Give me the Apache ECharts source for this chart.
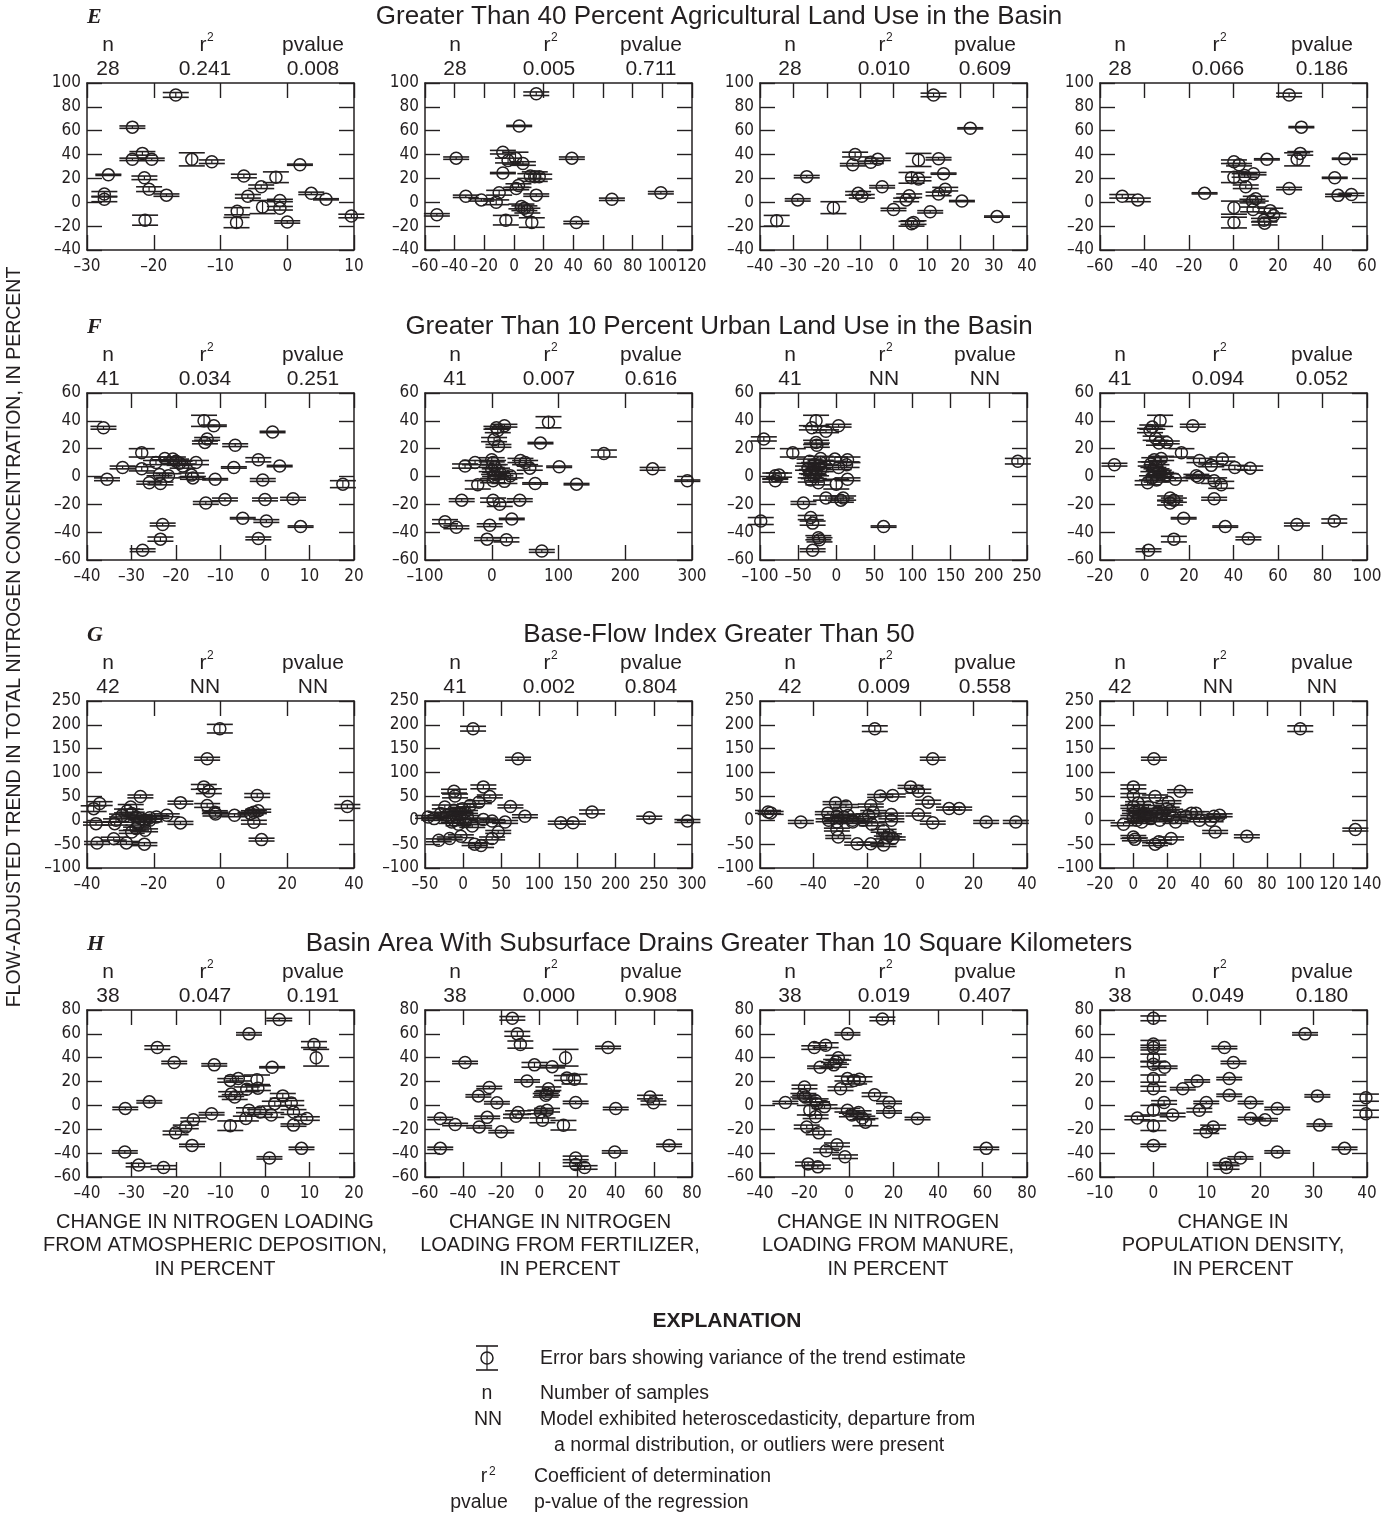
<!DOCTYPE html>
<html>
<head>
<meta charset="utf-8">
<script src="https://cdn.jsdelivr.net/npm/echarts@6/dist/echarts.min.js"></script>
<style>
  html, body { margin: 0; padding: 0; background: #fff; }
  #chart { width: 1397px; height: 1516px; }
</style>
</head>
<body>
<div id="chart"></div>
<script>
// ---- Panel data: [change in explanatory variable, flow-adjusted trend, error half-range] ----
// Row E: greater than 40 percent agricultural land use
const E_atm = [[-16.7,90,2],[-23.2,63,1],[-21.7,41,1.5],[-23.2,36,1],[-20.3,36,1],[-14.3,36,5.5],[-11.3,34,1.5],[-26.8,23,0.5],[-21.4,20.5,1.5],[-20.7,11,2],[-18.1,6,1],[-27.4,7,2],[-27.4,2.5,2],[-21.3,-15,4.2],[-6.5,22,1.5],[-1.7,21,4.5],[-3.9,13,1.5],[-5.9,5,1.5],[1.9,31.5,0.5],[3.6,7.5,1],[5.8,2.5,0.5],[9.6,-11.5,1.5],[-1.1,1.5,1],[-1.1,-5,1.5],[-3.7,-4,5.5],[0,-16.5,1],[-7.5,-7.5,3],[-7.6,-17,4.3]];
const E_fert = [[15,91,1.5],[3.5,64,0.5],[-39,37,1],[39,37,1],[-7.5,42,1.5],[-4,35,2],[1,37,5],[6,32.5,1.5],[-7.5,24.5,0.5],[11,22,2],[14,21.5,4],[17,21.5,2],[3,14,1.5],[1.5,11.5,1],[15,6,1],[-32.5,5,1],[-22,2,1],[-12,0,2],[-10,8,2],[66,2.5,1],[99,8,1],[-52,-10.5,1],[-5.5,-15,4],[5,-3.5,2],[7,-5,2],[9,-7,2],[12,-17,4],[42,-17,1]];
const E_man = [[12,90,1.5],[23,62,0.5],[-26,21.5,1],[-28.7,2,1],[-18,-4.5,5],[-35,-15.5,4.5],[-11.5,40,2],[-12.2,31.5,1],[-6.8,33.5,1],[-4.7,36,1],[-10.6,7.5,1.5],[-9.5,5,1.5],[-3.4,13,1],[0,-6,1],[7.5,35.5,5.5],[5.4,20.5,4.5],[7.5,19.5,1.5],[13.5,36.5,1],[15,24,0.5],[15.5,11,1.5],[13.5,7,1.5],[4.7,5.5,1.5],[3.8,2,1.5],[20.5,1,0.5],[11,-8,1],[31,-12,0.5],[5.4,-18,2],[6,-17,1.5]];
const E_pop = [[25,90,1.5],[30.5,63,0.5],[30,41,1.5],[28.6,36,5.5],[15,36,0.5],[50,36.5,0.5],[45.5,20.5,0.5],[47,5.8,1],[53,6.6,1],[25,11.5,1],[-50,5,1.5],[-43,2,1.5],[-13,7.5,0.5],[0.2,34,1.5],[2.5,31.5,1],[0.2,21,4.5],[5,22.5,1.5],[9,24,1],[5.5,13,1.5],[10,3,2],[8.5,1,1.5],[8.8,-6,2],[0.2,-4.5,5.5],[0.2,-17,4.5],[16.5,-7,2],[18,-11,1.5],[13.7,-15,1.5],[14,-17.5,1.5]];

// Row F: greater than 10 percent urban land use
const F_atm = [[-36.3,35,1],[-35.5,-2,1],[-27.7,17,3],[-32,6.5,1],[-27.7,5.5,1.5],[-26,-4.5,1],[-23.5,-5,1],[-23.7,1.5,1],[-24.5,10,1.5],[-22.5,13,1],[-20.7,12.5,1.5],[-20,11,1.5],[-19.2,9.5,1.5],[-18.5,7.5,1.5],[-21.7,0.5,1.5],[-15.5,10,1.5],[-16.5,1,1.5],[-16.2,-1,1],[-13.7,40,4],[-11.5,36.5,0.5],[-13,27,1],[-13.5,24.5,1],[-6.7,22.5,1],[-11.2,-2,0.5],[-13.3,-19,1],[-9,-16.5,1],[-7,6.5,0.5],[-5,-30,0.5],[-1.5,12,1.5],[-0.5,-2.5,1],[0,-16.5,1],[0.3,-32,1],[-1.5,-44.5,1],[1.7,32,0.5],[3.3,7.5,0.5],[6.3,-16,1],[8,-36,0.5],[17.5,-5.5,2.5],[-23,-34.5,1],[-23.5,-45,1.5],[-27.5,-53,1]];
const F_fert = [[85,39,4],[7,35,1],[9,33,1.5],[19,36.5,1],[3.5,26.5,1.5],[10,22,1],[73,24,0.5],[168,16.5,2.5],[241,5.5,1],[293,-3,0.5],[101,7,0.5],[127,-5.5,0.5],[65,-5,0.5],[57,6,1.5],[43,11.5,1.5],[50,10,1.5],[-25,10,1.5],[-40,7.5,1.5],[-21,-6,3],[-45,-17,1],[-70,-32.5,1.5],[-53,-36.5,1],[-3,-35,1],[-7,-45,1],[22,-45.5,1.5],[30,-30.5,0.5],[75,-53.5,1],[2,-17,1.5],[12,-20,1.5],[42,-17,1],[0,12,1.5],[2,10,1.5],[4.5,7,1.5],[0,5,1.5],[8,4.5,1.5],[13,2,1.5],[3.5,0,1.5],[2,-3,1.5],[19,-3.5,1.5],[28,0.5,1.5],[5,1.5,1.5]];
const F_man = [[-95,27,1.5],[-99,-32,2.5],[-80,0.5,2],[-75,1,1.5],[-80,-3,1],[-57,17,3],[-43,-19,1],[-26.5,40,4],[-32,35,1.5],[-13.5,32.5,1],[3,36.5,1],[-26.5,24.5,1.5],[-25.5,22.5,1.5],[-13.5,-15.5,1.5],[6,-17,1.5],[9,-15.5,1.5],[0,-5.5,3.5],[14.7,-2,1],[14.7,12,2],[-1.8,12.5,1.5],[3,6.5,1.5],[13.5,8.5,2],[-20.5,13,1.5],[-35,11,1.5],[-29,8.5,1.5],[-23.5,7.5,1.5],[-37,6,1.5],[-32,3.5,1.5],[-20.5,5,1.5],[-26.5,2,1.5],[-29.5,0,1.5],[-33.5,-2.5,1.5],[-23.5,-4.5,1.5],[-20.5,10,1.5],[-33.5,-29.5,1.5],[-31,-33.5,1.5],[-23.5,-44,1.5],[-22,-45.5,1.5],[-31,-53,1],[62,-36,0.5],[238,11,2]];
const F_pop = [[-13.5,8.5,1],[7,40,4],[3.5,35.5,1.5],[2.5,33,1.5],[5,27.5,1.5],[6.5,24,1.5],[10,24.5,1],[21.7,36.5,1],[16.6,17,3],[24.7,11.5,1.5],[30,8,1],[35,12.5,1.5],[40.6,6.5,1.5],[47.5,6,1.5],[4.4,12,1.5],[7.5,13,1.5],[2.8,9,1.5],[5.4,7,1.5],[4,5,1.5],[6.4,3,1.5],[9.5,0.5,1.5],[3.4,-1,1.5],[1.4,-4.5,1.5],[5.4,-2.5,1.5],[7.5,1.5,1.5],[23.3,0.5,1],[24.3,-0.5,1],[13.8,-2,1],[31.3,-3,2],[34.5,-6,2.5],[11.5,-15.5,1.5],[13.2,-17,1.5],[11.5,-19,1.5],[31.3,-16,1],[17.6,-30,0.5],[36.3,-36,0.5],[13.2,-45,2],[46.7,-44.5,1],[68.5,-34.5,1],[85.3,-32,1.5],[1.8,-53,1]];

// Row G: base-flow index greater than 50
const G_atm = [[-0.2,192,9],[-4,129,3],[-5,70,5],[-3.5,61,5],[-4,31,4],[-1.5,13,4],[-1.7,17,3],[-12,37,3],[-12,-5.5,3],[-24,50,3],[11,52,4],[10,17,3],[11.3,20,3],[10,-4,4],[9,14,3],[12.3,-40.5,3],[4.2,10.5,3],[38,29,4],[-38,24.4,6],[-36.2,35,4],[-37,-47.5,3],[-37.3,-7,3],[-31.3,0,3],[-31.7,-7,3],[-26.9,28,5],[-28,19.5,4],[-26.6,14,3],[-25.3,7,3],[-23.9,3.5,3],[-22.6,0,3],[-21.2,5.5,3],[-19.2,7,3],[-16.1,10.5,3],[-32,-38.5,3],[-28.2,-47.4,3],[-22.8,-50,3],[-26.6,-24.4,3],[-25.3,-17.4,3],[-22.6,-21,3],[-21.2,0,3],[-29.5,10,3],[-24.6,-7,3]];
const G_fert = [[13,192,5],[72,129,3],[26.5,70,4],[35,50,3],[-12,61,4],[-10.6,51,4],[62,29,3],[81,8.5,3],[128,-5,3],[144,-5,3],[169,17.5,4],[244,5.5,3],[294,-1.5,3],[15,-50,3],[23.5,-53,4],[-32,-42,3],[-17.6,-38,3],[-3,-33.5,3],[38,-38,3],[46,-24.4,3],[38,-1.5,3],[55,-3.5,3],[26.5,1.5,3],[20.6,38,3],[9,31,3],[-46,7,3],[-38,3.5,3],[-29.5,14,3],[-21,10.5,3],[-24,28,4],[-12,21,3],[-9,7,3],[-3.5,14,3],[2.5,17.5,3],[-15,-3.5,3],[-6,-8.5,3],[3,-2,3],[-12,0,4],[5.5,7,3],[-1,24,3],[12,-12,3]];
const G_man = [[-17,192,6],[4.7,129,3],[-3.6,70,3],[-0.7,61,4],[-15,51,3],[-10.3,52,3],[3,38,4],[-0.7,12,3],[10.8,24.5,3],[14.6,24.5,3],[4.7,-5,3],[24.7,-3.5,3],[35.8,-3.5,3],[-57,17.5,3],[-56,15.5,3],[-44.7,-3.5,3],[-31.7,36,3],[-27.8,30,3],[-34.6,15,3],[-31.2,8.4,3],[-28.6,7,3],[-25.3,0,3],[-34.3,0,3],[-31.2,-3.5,3],[-25.3,-3.5,3],[-31.2,-19.5,3],[-30.7,-35,3],[-23.6,-49,3],[-18.5,-49,3],[-13.7,-52,3],[-18.5,31,3],[-17.6,17.4,3],[-19.3,10.5,3],[-21.4,0,3],[-18.1,-8.4,3],[-10.8,12,3],[-10.8,0,3],[-13.7,-22,3],[-11.7,-31.4,3],[-10.3,-38,3],[-12.5,-36,3],[-27,10,3]];
const G_pop = [[100,192,6],[12.3,129,3],[0,70,4],[0,52,4],[2.8,36,3],[13,50,3],[28,61,3],[21,38,3],[20,24.4,3],[133,-19.5,3],[68,-33.5,3],[49,-24.4,3],[48.3,8.4,3],[51.7,10.5,3],[39.7,0,3],[34.8,15,3],[37.5,15,3],[31.5,9,3],[24,5.6,3],[25.3,-3.5,3],[46.3,0,3],[0,-35,3],[0.9,-40,3],[13,-50,3],[15.3,-45,3],[22.6,-38,3],[-5.9,-8.4,3],[0,28,3],[0.9,17.4,3],[3.6,21,3],[7.1,14,3],[9,28,3],[2.2,0,3],[5,-3.5,3],[3.6,7,3],[10.4,3.5,3],[14.4,17.4,3],[17.2,14,3],[15.8,0,3],[0,7,3],[7,10,3],[22,20,3]];

// Row H: basin area with subsurface drains greater than 10 square kilometers
const H_atm = [[3.2,72,1],[-3.6,60,1],[-24.2,48.5,1.5],[-20.4,36,1],[-11.4,34,1],[1.6,32,0.5],[11,51,2.5],[11.5,40,7],[-7.8,21,1.5],[-6,22.5,2],[-1.8,21.5,4],[-1.6,14.5,2],[-4.1,13.5,2],[-7.6,9.5,2],[-6.8,7,2],[4,8,2],[2.2,1.5,2],[5.9,2,2],[6.4,-5.5,2],[9.4,-11,1.5],[-31.4,-2.5,1],[-26,3,1],[-12,-7,1],[-16.1,-12,1.5],[-17.8,-18,1.5],[-20.1,-23,1.5],[-3.6,-4,2],[-1.1,-5.5,2],[1.4,-8,2],[-4.3,-11,2],[-7.8,-17,4],[6.4,-16.5,1],[-16.4,-33.5,1],[-31.5,-39,1],[-28.4,-50,1.5],[-22.8,-52,1.5],[1,-44,1],[8.2,-36,1]];
const H_fert = [[-14.2,73,1.5],[-11.6,60,2],[-10,51,3],[36,48.6,1],[-39,36,1],[-2.6,34,2],[6.7,32.5,1],[13.7,40,7],[-6.5,20.5,1],[14.4,23,2],[18.4,22,4],[19,2.5,1],[-26.3,15,1],[-32,8,1],[-22.3,2.2,1],[4.7,14,1.5],[4,10,1.5],[3.3,8.5,1.5],[0.5,-5.5,1.5],[4,-4,1.5],[1.6,-12.5,2],[-11.2,-6,1.5],[-12.3,-9,1.5],[12.6,-16.6,4],[-27.4,-10,1],[-52,-11,1],[-44.2,-16,1],[-31.6,-18,1],[-20,-22,1],[-52,-36,1],[40,-2.6,1],[58,7,1.5],[59.8,2.2,1.5],[39.5,-39,1],[68,-33.5,1],[19,-44,1.5],[19,-49.5,1.5],[23.7,-52,1.5]];
const H_man = [[15,72.5,1.5],[-0.7,60,1],[-15.6,48.5,1.5],[-10.5,50.5,2],[-4.8,40,2],[-5.8,36.5,2],[-6.8,34,2],[-13,32,1],[-0.7,22.5,2],[2.3,21,3],[4.7,22,2],[-3.8,14,1.5],[11.5,9,1.5],[18,2.5,1],[18,-5.5,1],[30.8,-11,1],[61.7,-36,1],[-28.6,2.4,1],[-20,15.5,1.5],[-20.5,8.5,1.5],[-19.7,7,1.5],[-15,4,1.5],[-14.4,1.5,1.5],[-11,-1,1.5],[-17.6,-4,4],[-15,-9.5,1.5],[-19,-18,1.5],[-13.6,-23,1.5],[-0.7,-4,1.5],[1.3,-8,1.5],[4.3,-6,1.5],[6,-10.5,1.5],[7.4,-14,3],[-5.4,-33,1.5],[-10.3,-38,1.5],[-1.8,-43,1.5],[-18.4,-49,1.5],[-14,-51.5,1.5]];
const H_pop = [[0,73,2],[0,51.5,3],[0,48.5,2],[0,40,3],[0,34.5,2],[2.1,32,1],[0,22.5,3],[0,14,2],[0,-4,4],[0,-17,4],[0,-33.5,1],[2,2.5,1.5],[-3,-10.5,1.5],[3.6,-8,1.5],[5.5,14,1],[8.2,20.5,1],[9.9,2.5,1],[8.6,-4,1.5],[9.9,-22,1.5],[11.2,-18,1.5],[13.3,48.5,1],[15,36,1],[14.2,22.5,1],[14.2,8.5,1],[18.2,2.4,1],[18.2,-11,1],[20.9,-12,1],[23.2,-2.6,1],[13.5,-49,1],[13.7,-52,1.5],[16.3,-44,1],[23.2,-39,1],[28.4,60,1],[30.7,8,1],[31.1,-16.5,1],[35.8,-36,1],[39.8,6.5,3],[39.8,-7,3]];

// ---- Row headings, regression statistics and axis scales ----
const rowLetters = ['E', 'F', 'G', 'H'];
const rowTitles = [
  'Greater Than 40 Percent Agricultural Land Use in the Basin',
  'Greater Than 10 Percent Urban Land Use in the Basin',
  'Base-Flow Index Greater Than 50',
  'Basin Area With Subsurface Drains Greater Than 10 Square Kilometers'
];
const nValues = [[28, 28, 28, 28], [41, 41, 41, 41], [42, 41, 42, 42], [38, 38, 38, 38]];
const r2Values = [['0.241', '0.005', '0.010', '0.066'], ['0.034', '0.007', 'NN', '0.094'], ['NN', '0.002', '0.009', 'NN'], ['0.047', '0.000', '0.019', '0.049']];
const pValues = [['0.008', '0.711', '0.609', '0.186'], ['0.251', '0.616', 'NN', '0.052'], ['NN', '0.804', '0.558', 'NN'], ['0.191', '0.908', '0.407', '0.180']];
// [min, max, interval] of each x axis, by row and column
const xScales = [
  [[-30, 10, 10], [-60, 120, 20], [-40, 40, 10], [-60, 60, 20]],
  [[-40, 20, 10], [-100, 300, 100], [-100, 250, 50], [-20, 100, 20]],
  [[-40, 40, 20], [-50, 300, 50], [-60, 40, 20], [-20, 140, 20]],
  [[-40, 20, 10], [-60, 80, 20], [-40, 80, 20], [-10, 40, 10]]
];
// [min, max, interval] of the y axes, by row
const yScales = [[-40, 100, 20], [-60, 60, 20], [-100, 250, 50], [-60, 80, 20]];
const xAxisTitles = [
  ['CHANGE IN NITROGEN LOADING', 'FROM ATMOSPHERIC DEPOSITION,', 'IN PERCENT'],
  ['CHANGE IN NITROGEN', 'LOADING FROM FERTILIZER,', 'IN PERCENT'],
  ['CHANGE IN NITROGEN', 'LOADING FROM MANURE,', 'IN PERCENT'],
  ['CHANGE IN', 'POPULATION DENSITY,', 'IN PERCENT']
];
const yAxisTitle = 'FLOW-ADJUSTED TREND IN TOTAL NITROGEN CONCENTRATION, IN PERCENT';

const panelData = [
  [E_atm, E_fert, E_man, E_pop],
  [F_atm, F_fert, F_man, F_pop],
  [G_atm, G_fert, G_man, G_pop],
  [H_atm, H_fert, H_man, H_pop]
];

// ---- Layout ----
const INK = '#231f20';
const SANS = '"Liberation Sans", Arial, Helvetica, sans-serif';
const CONDENSED = '"DejaVu Sans Condensed", "Liberation Sans Narrow", sans-serif';
const SERIF = '"Liberation Serif", "Times New Roman", serif';
const COL_LEFT = [87, 425, 760, 1100];
const COL_W = 267;
const ROW_TOP = [83, 393, 701, 1010];
const ROW_H = 167;
const STAT_X = [[108, 205, 313], [455, 549, 651], [790, 884, 985], [1120, 1218, 1322]];
const XTITLE_X = [215, 560, 888, 1233];
const CAP = 13;   // half-width of the error bar caps, px
const RAD = 6;    // marker radius, px

// tick labels use a short dash for negatives, as in the printed figure
const dashFmt = v => (v < 0 ? '\u2013' + Math.abs(v) : String(v));

function drawErrorBar(params, api) {
  const x = api.value(0), y = api.value(1), e = api.value(2);
  const p = api.coord([x, y]);
  const hi = api.coord([x, y + e])[1];
  const lo = api.coord([x, y - e])[1];
  const capStyle = { stroke: INK, lineWidth: 1.6 };
  return {
    type: 'group',
    children: [
      { type: 'line', shape: { x1: p[0], y1: hi, x2: p[0], y2: lo }, style: { stroke: INK, lineWidth: 1.2 } },
      { type: 'line', shape: { x1: p[0] - CAP, y1: hi, x2: p[0] + CAP, y2: hi }, style: capStyle },
      { type: 'line', shape: { x1: p[0] - CAP, y1: lo, x2: p[0] + CAP, y2: lo }, style: capStyle },
      { type: 'circle', shape: { cx: p[0], cy: p[1], r: RAD }, style: { stroke: INK, lineWidth: 1.5, fill: 'transparent' } }
    ]
  };
}

function text(x, y, str, font, align, extra) {
  return Object.assign({
    type: 'text', x: x, y: y, silent: true,
    style: { text: str, font: font, fill: INK, align: align || 'center', verticalAlign: 'middle',
             textAlign: align || 'center', textVerticalAlign: 'middle' }
  }, extra || {});
}

const grids = [], xAxes = [], yAxes = [], series = [], graphics = [];

for (let r = 0; r < 4; r++) {
  const top = ROW_TOP[r];
  graphics.push(text(87, top - 66, rowLetters[r], 'italic bold 22px ' + SERIF, 'left'));
  graphics.push(text(719, top - 66, rowTitles[r], '26px ' + SANS));
  for (let c = 0; c < 4; c++) {
    const k = r * 4 + c;
    const [xmin, xmax, xint] = xScales[r][c];
    const [ymin, ymax, yint] = yScales[r];
    grids.push({ left: COL_LEFT[c], top: top, width: COL_W, height: ROW_H, containLabel: false });

    const base = {
      type: 'value', gridIndex: k, scale: false,
      splitLine: { show: false },
      axisLine: { show: true, onZero: false, lineStyle: { color: INK, width: 1.5 } },
      axisTick: { show: true, inside: true, length: 15, lineStyle: { color: INK, width: 1.4 } }
    };
    const labelStyle = { color: INK, fontFamily: CONDENSED, fontSize: 17, formatter: dashFmt,
                         showMinLabel: true, showMaxLabel: true };
    xAxes.push(Object.assign({}, base, { position: 'bottom', min: xmin, max: xmax, interval: xint,
      axisLabel: Object.assign({ show: true, margin: 8 }, labelStyle) }));
    xAxes.push(Object.assign({}, base, { position: 'top', min: xmin, max: xmax, interval: xint,
      axisLabel: { show: false } }));
    yAxes.push(Object.assign({}, base, { position: 'left', min: ymin, max: ymax, interval: yint,
      axisLabel: Object.assign({ show: true, margin: 6 }, labelStyle) }));
    yAxes.push(Object.assign({}, base, { position: 'right', min: ymin, max: ymax, interval: yint,
      axisLabel: { show: false } }));

    series.push({
      type: 'custom', xAxisIndex: 2 * k, yAxisIndex: 2 * k,
      dimensions: ['x', 'y', 'e'], encode: { x: 0, y: 1 },
      data: panelData[r][c], renderItem: drawErrorBar, clip: false, silent: true, z: 5
    });

    // regression statistics above each panel
    const sx = STAT_X[c];
    graphics.push(text(sx[0], top - 38, 'n', '21px ' + SANS));
    graphics.push(text(sx[1] - 2, top - 38, 'r', '21px ' + SANS));
    graphics.push(text(sx[1] + 2, top - 45, '2', '12px ' + SANS, 'left'));
    graphics.push(text(sx[2], top - 38, 'pvalue', '21px ' + SANS));
    graphics.push(text(sx[0], top - 14, String(nValues[r][c]), '21px ' + SANS));
    graphics.push(text(sx[1], top - 14, r2Values[r][c], '21px ' + SANS));
    graphics.push(text(sx[2], top - 14, pValues[r][c], '21px ' + SANS));

    if (r === 3) {
      xAxisTitles[c].forEach((line, i) => {
        graphics.push(text(XTITLE_X[c], 1222 + i * 23.5, line, '20px ' + SANS));
      });
    }
  }
}

// shared y-axis title
graphics.push(text(15, 637, yAxisTitle, '19.5px ' + SANS, 'center', { rotation: Math.PI / 2 }));

// explanation block
graphics.push(text(727, 1321, 'EXPLANATION', 'bold 21px ' + SANS));
graphics.push({
  type: 'group', x: 487, y: 1358, silent: true,
  children: [
    { type: 'line', shape: { x1: 0, y1: -12, x2: 0, y2: 12 }, style: { stroke: INK, lineWidth: 1.2 } },
    { type: 'line', shape: { x1: -11, y1: -12, x2: 11, y2: -12 }, style: { stroke: INK, lineWidth: 1.6 } },
    { type: 'line', shape: { x1: -11, y1: 12, x2: 11, y2: 12 }, style: { stroke: INK, lineWidth: 1.6 } },
    { type: 'circle', shape: { cx: 0, cy: 0, r: RAD }, style: { stroke: INK, lineWidth: 1.5, fill: 'transparent' } }
  ]
});
const EXP_FONT = '19.5px ' + SANS;
graphics.push(text(540, 1359, 'Error bars showing variance of the trend estimate', EXP_FONT, 'left'));
graphics.push(text(487, 1394, 'n', EXP_FONT));
graphics.push(text(540, 1394, 'Number of samples', EXP_FONT, 'left'));
graphics.push(text(488, 1420, 'NN', EXP_FONT));
graphics.push(text(540, 1420, 'Model exhibited heteroscedasticity, departure from', EXP_FONT, 'left'));
graphics.push(text(554, 1446, 'a normal distribution, or outliers were present', EXP_FONT, 'left'));
graphics.push(text(484, 1477, 'r', EXP_FONT));
graphics.push(text(489, 1472, '2', '12px ' + SANS, 'left'));
graphics.push(text(534, 1477, 'Coefficient of determination', EXP_FONT, 'left'));
graphics.push(text(479, 1503, 'pvalue', EXP_FONT));
graphics.push(text(534, 1503, 'p-value of the regression', EXP_FONT, 'left'));

const chart = echarts.init(document.getElementById('chart'), null, { renderer: 'canvas' });
chart.setOption({
  animation: false,
  backgroundColor: '#ffffff',
  grid: grids,
  xAxis: xAxes,
  yAxis: yAxes,
  series: series,
  graphic: { elements: graphics }
});
</script>
</body>
</html>
